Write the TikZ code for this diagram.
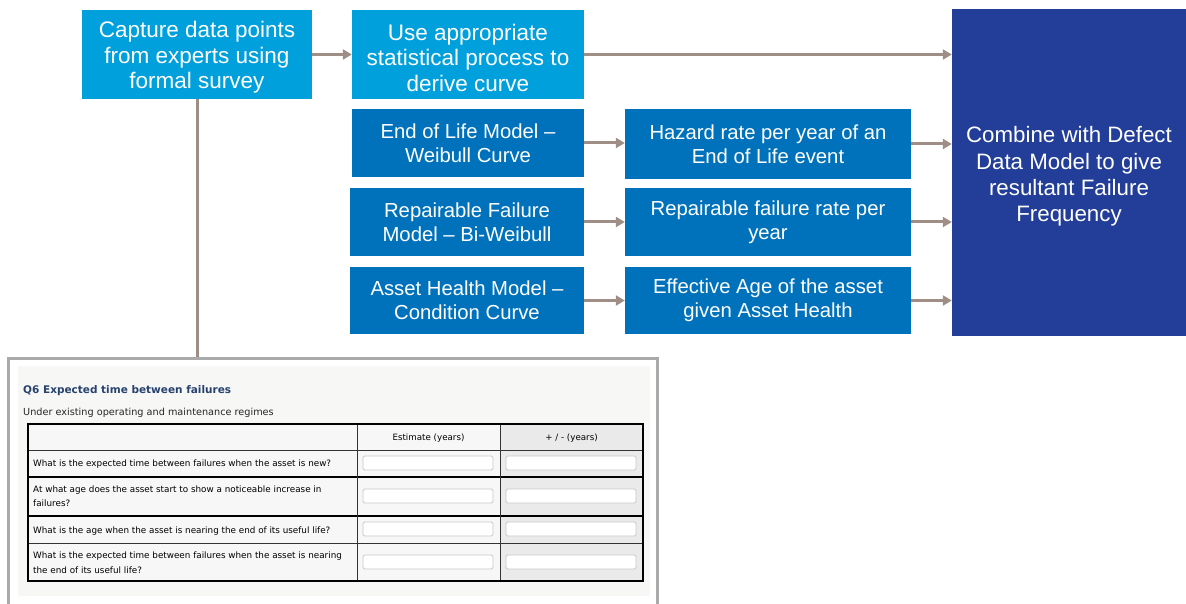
\documentclass[tikz,border=0pt]{standalone}
\usepackage{fontspec}
\setmainfont{Liberation Sans}
\newfontfamily\svy{DejaVu Sans}
\usetikzlibrary{arrows.meta}
\definecolor{lightblue}{RGB}{0,160,220}
\definecolor{midblue}{RGB}{0,114,188}
\definecolor{darkblue}{RGB}{35,62,152}
\definecolor{arrowc}{RGB}{158,142,134}
\definecolor{framec}{RGB}{170,170,170}
\definecolor{panelc}{RGB}{247,247,245}
\definecolor{shadec}{RGB}{234,234,234}
\definecolor{titlec}{RGB}{40,66,110}
\definecolor{inputc}{RGB}{200,200,200}
\tikzset{
  bigbox/.style={rectangle, inner sep=0pt, text=white, align=center, font=\fontsize{22.5}{25.5}\selectfont},
  smallbox/.style={rectangle, inner sep=0pt, text=white, align=center, font=\fontsize{20.3}{24}\selectfont, fill=midblue},
  flow/.style={draw=arrowc, line width=3pt, -{Triangle[length=9pt,width=10pt]}},
  link/.style={draw=arrowc, line width=3pt},
  svtext/.style={inner sep=0pt, anchor=base west, font=\svy\fontsize{8.8}{14}\selectfont, text=black},
  svhead/.style={inner sep=0pt, anchor=base, font=\svy\fontsize{8.7}{14}\selectfont, text=black},
  inputbox/.style={draw=inputc, fill=white, line width=0.8pt, rounded corners=1.5pt, minimum width=130pt, minimum height=14pt, inner sep=0pt}
}
\begin{document}
\begin{tikzpicture}[x=1pt,y=-1pt]
\useasboundingbox (0,0) rectangle (1186,604);
\clip (0,0) rectangle (1186,604);

% top row
\node[bigbox, fill=lightblue, minimum width=230pt, minimum height=89pt] (cap) at (197,54.5) {\rule{0pt}{22.5pt}Capture data points\\from experts using\\formal survey};
\node[bigbox, fill=lightblue, minimum width=232pt, minimum height=89pt] (use) at (468,54.5) {\rule{0pt}{22.5pt}Use appropriate\\statistical process to\\derive curve};
\node[bigbox, fill=darkblue, minimum width=234pt, minimum height=327pt, font=\fontsize{22.3}{26.3}\selectfont] (comb) at (1069,172.5) {\rule{0pt}{24pt}Combine with Defect\\Data Model to give\\resultant Failure\\Frequency};

% model rows
\node[smallbox, minimum width=232pt, minimum height=68pt] (eol) at (468,143) {End of Life Model --\\Weibull Curve};
\node[smallbox, minimum width=286pt, minimum height=70pt] (haz) at (768,144) {Hazard rate per year of an\\End of Life event};
\node[smallbox, minimum width=234pt, minimum height=68pt] (rep) at (467,222) {Repairable Failure\\Model -- Bi-Weibull};
\node[smallbox, minimum width=286pt, minimum height=68pt] (rfr) at (768,222) {Repairable failure rate per\\year};
\node[smallbox, minimum width=234pt, minimum height=67pt] (ahm) at (467,300.5) {Asset Health Model --\\Condition Curve};
\node[smallbox, minimum width=286pt, minimum height=67pt] (eff) at (768,300.5) {Effective Age of the asset\\given Asset Health};

% arrows
\draw[flow] (cap.east) -- (use.west);
\draw[flow] (use.east) -- (use.east -| comb.west);
\draw[flow] (eol.east) -- (eol.east -| haz.west);
\draw[flow] (rep.east) -- (rep.east -| rfr.west);
\draw[flow] (ahm.east) -- (ahm.east -| eff.west);
\draw[flow] (haz.east) -- (haz.east -| comb.west);
\draw[flow] (rfr.east) -- (rfr.east -| comb.west);
\draw[flow] (eff.east) -- (eff.east -| comb.west);

% survey frame
\node[draw=framec, line width=3pt, fill=white, minimum width=649pt, minimum height=254pt, inner sep=0pt] (frame) at (332.5,485) {};
\draw[link] (cap.south) -- (cap.south |- frame.north);
\node[fill=panelc, minimum width=632pt, minimum height=230pt, inner sep=0pt] (panel) at (334,481) {};

\node[inner sep=0pt, anchor=base west, font=\svy\bfseries\fontsize{10.5}{12}\selectfont, text=titlec] (q6) at (23,393) {Q6 Expected time between failures};
\node[inner sep=0pt, anchor=base west, font=\svy\fontsize{9.7}{12}\selectfont, text=black!85] (under) at (23,415) {Under existing operating and maintenance regimes};

% table
\fill[white!97!black] (28,424) rectangle (500,581);
\fill[shadec] (500,424) rectangle (643,581);
\draw[black!80, line width=0.8pt] (28,450) -- (643,450);
\draw[black, line width=2pt] (28,477) -- (643,477);
\draw[black, line width=2pt] (28,516) -- (643,516);
\draw[black!80, line width=0.8pt] (28,543) -- (643,543);
\draw[black!80, line width=0.8pt] (357,424) -- (357,581);
\draw[black!80, line width=0.8pt] (500,424) -- (500,581);
\draw[black, line width=1.6pt] (28,424) rectangle (643,581);

\node[svhead] (h1) at (428.5,440) {Estimate (years)};
\node[svhead] (h2) at (571.5,440) {+ / - (years)};

\node[svtext] (r1) at (33,466) {What is the expected time between failures when the asset is new?};
\node[svtext] (r2a) at (33,492) {At what age does the asset start to show a noticeable increase in};
\node[svtext] (r2b) at (33,506) {failures?};
\node[svtext] (r3) at (33,533) {What is the age when the asset is nearing the end of its useful life?};
\node[svtext] (r4a) at (33,558) {What is the expected time between failures when the asset is nearing};
\node[svtext] (r4b) at (33,573) {the end of its useful life?};

\foreach \y [count=\i] in {463,496,529,562}{
  \node[inputbox] (ea\i) at (428,\y) {};
  \node[inputbox] (eb\i) at (571,\y) {};
}
\end{tikzpicture}
\end{document}
